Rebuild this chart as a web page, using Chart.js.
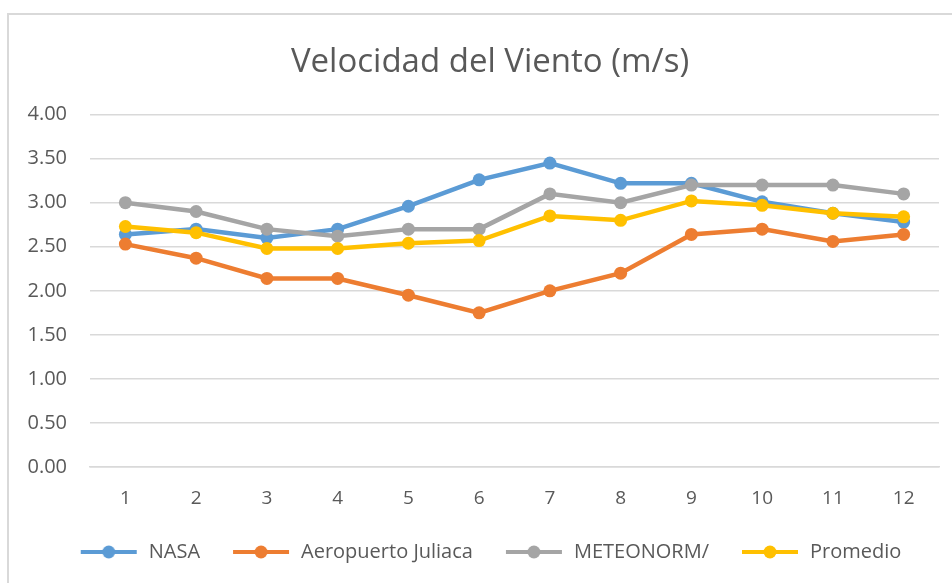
<!DOCTYPE html>
<html>
<head>
<meta charset="utf-8">
<script src="https://cdn.jsdelivr.net/npm/chart.js@4/dist/chart.umd.min.js"></script>
<style>
  html, body { margin: 0; padding: 0; background: #fff; overflow: hidden; }
  .frame {
    position: absolute; left: 7px; top: 13px;
    width: 962px; height: 590px;
    border: 2px solid #d9d9d9;
    background: #fff;
  }
  canvas { display: block; }
</style>
</head>
<body>
<div class="frame"><canvas id="viento" width="962" height="590"></canvas></div>
<script>
const meses = ['1', '2', '3', '4', '5', '6', '7', '8', '9', '10', '11', '12'];
const nasa = [2.64, 2.70, 2.60, 2.70, 2.96, 3.26, 3.45, 3.22, 3.22, 3.01, 2.88, 2.78];
const juliaca = [2.53, 2.37, 2.14, 2.14, 1.95, 1.75, 2.00, 2.20, 2.64, 2.70, 2.56, 2.64];
const meteonorm = [3.00, 2.90, 2.70, 2.62, 2.70, 2.70, 3.10, 3.00, 3.20, 3.20, 3.20, 3.10];
const promedio = [2.73, 2.66, 2.48, 2.48, 2.54, 2.57, 2.85, 2.80, 3.02, 2.97, 2.88, 2.84];
const yTicks = [0, 0.5, 1, 1.5, 2, 2.5, 3, 3.5, 4];

const gris = '#595959';
const fuente = "'Open Sans', 'Liberation Sans', sans-serif";

// line-with-dot swatch used as the legend marker (a bit wider than the
// legend box so the text sits close to the line end)
function swatch(color) {
    const c = document.createElement('canvas');
    c.width = 64; c.height = 16;
    const g = c.getContext('2d');
    g.strokeStyle = color;
    g.lineWidth = 4;
    g.beginPath();
    g.moveTo(4, 8);
    g.lineTo(60, 8);
    g.stroke();
    g.fillStyle = color;
    g.beginPath();
    g.arc(32, 8, 6.5, 0, Math.PI * 2);
    g.fill();
    return c;
}

function serie(label, data, color, order) {
    return {
        label: label,
        data: data,
        borderColor: color,
        backgroundColor: color,
        borderWidth: 4.5,
        pointRadius: 6.5,
        pointBorderWidth: 0,
        pointBackgroundColor: color,
        pointStyle: 'circle',
        tension: 0,
        order: order
    };
}

const ctx = document.getElementById('viento').getContext('2d');

new Chart(ctx, {
    type: 'line',
    data: {
        labels: meses,
        datasets: [
            serie('NASA', nasa, '#5B9BD5', 3),
            serie('Aeropuerto Juliaca', juliaca, '#ED7D31', 2),
            serie('METEONORM/', meteonorm, '#A5A5A5', 1),
            serie('Promedio', promedio, '#FFC000', 0)
        ]
    },
    options: {
        responsive: false,
        animation: false,
        layout: { padding: { left: 0, right: 0, top: 0, bottom: 33 } },
        plugins: {
            title: {
                display: true,
                text: 'Velocidad del Viento (m/s)',
                color: gris,
                font: { family: fuente, size: 33, weight: 'normal' },
                padding: { top: 28, bottom: 32 }
            },
            legend: {
                position: 'bottom',
                labels: {
                    usePointStyle: true,
                    pointStyleWidth: 60,
                    color: gris,
                    padding: 31,
                    font: { family: fuente, size: 20 },
                    sort: (a, b) => a.datasetIndex - b.datasetIndex,
                    generateLabels: chart => {
                        const items = Chart.defaults.plugins.legend.labels.generateLabels(chart);
                        items.forEach(it => {
                            it.pointStyle = swatch(chart.data.datasets[it.datasetIndex].borderColor);
                        });
                        return items;
                    }
                }
            },
            tooltip: { enabled: false }
        },
        scales: {
            x: {
                offset: true,
                grid: { display: false },
                border: { display: true, color: '#d9d9d9', width: 1.5 },
                ticks: { color: gris, padding: 12, font: { family: fuente, size: 19 } },
                afterFit: scale => { scale.height = 44; }
            },
            y: {
                min: 0,
                max: 4,
                afterBuildTicks: scale => { scale.ticks = yTicks.map(v => ({ value: v })); },
                grid: { color: '#d9d9d9', lineWidth: 1.5, drawTicks: false },
                border: { display: false },
                ticks: {
                    color: gris,
                    padding: 23,
                    font: { family: fuente, size: 20 },
                    callback: v => Number(v).toFixed(2)
                },
                afterFit: scale => { scale.width = 81; }
            },
            // empty spacer on the right edge of the plot
            margen: {
                type: 'linear',
                position: 'right',
                grid: { display: false },
                border: { display: false },
                ticks: { display: false },
                afterFit: scale => { scale.width = 32; }
            }
        }
    }
});
</script>
</body>
</html>
